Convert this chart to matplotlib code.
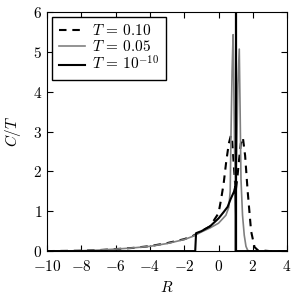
import matplotlib
matplotlib.use("Agg")
from matplotlib import pyplot as plt

plt.rcParams['font.family'] = 'serif'
plt.rcParams['font.serif'] = ['cmr10', 'DejaVu Serif']
plt.rcParams['mathtext.fontset'] = 'cm'
plt.rcParams['axes.formatter.use_mathtext'] = True

# T = 0.10 (dashed)
R_hot = [-10, -9, -8, -7, -6, -5, -4, -3, -2, -1.5, -1, -0.5, 0, 0.15, 0.3,
         0.45, 0.6, 0.72, 0.8, 0.9, 1.0, 1.1, 1.2, 1.3, 1.42, 1.55, 1.7, 1.9,
         2.1, 2.3, 2.7, 3, 4]
C_hot = [0.0, 0.005, 0.01, 0.025, 0.05, 0.08, 0.125, 0.2, 0.3, 0.38, 0.5,
         0.62, 0.95, 1.3, 1.7, 2.25, 2.7, 2.9, 2.75, 2.1, 1.5, 1.85, 2.3, 2.7,
         2.85, 2.4, 1.5, 0.5, 0.1, 0.02, 0.01, 0.0, 0.0]

# T = 0.05 (grey)
R_mid = [-10, -9, -8, -7, -6, -5, -4, -3, -2, -1.5, -1, -0.5, 0, 0.43, 0.6,
         0.68, 0.73, 0.79, 0.85, 0.89, 0.94, 1.0, 1.06, 1.13, 1.21, 1.26, 1.31,
         1.4, 1.5, 1.6, 1.7, 1.8, 4]
C_mid = [0.0, 0.005, 0.01, 0.025, 0.05, 0.08, 0.12, 0.19, 0.29, 0.37, 0.48,
         0.58, 0.7, 0.9, 1.1, 1.5, 3.0, 4.5, 5.43, 4.2, 2.5, 1.6, 2.5, 4.2,
         5.07, 3.5, 1.8, 0.9, 0.4, 0.12, 0.02, 0.0, 0.0]

# T = 1e-10 (black)
R_cold = [-10, -1.36, -1.31, -1, -0.5, 0, 0.3, 0.53, 0.7, 0.9, 0.98, 1.0,
          1.0, 4]
C_cold = [0.0, 0.0, 0.45, 0.5, 0.62, 0.82, 0.98, 1.11, 1.3, 1.49, 1.62, 0.9,
          0.0, 0.0]
R_delta = 1.0

labels = [r'$T\,=\,0.10$', r'$T\,=\,0.05$', r'$T\,=\,10^{-10}$']

fig = plt.figure(figsize=(3, 3), dpi=100)
ax = fig.add_axes([0.157, 0.163, 0.8, 0.797])

ax.plot(R_hot, C_hot, color='black', lw=1.5, dashes=(3.6, 2.8), label=labels[0])
ax.plot(R_mid, C_mid, color='#808080', lw=1.2, label=labels[1])
ax.plot(R_cold, C_cold, color='black', lw=1.5, label=labels[2])
ax.axvline(R_delta, color='black', lw=1.6)

ax.set_xlim(-10, 4)
ax.set_ylim(0, 6)
ax.set_xticks(range(-10, 5, 2))
ax.set_yticks(range(0, 7))
ax.tick_params(direction='in', top=True, right=True, labelsize=11, length=4)
ax.tick_params(axis='x', pad=6)
ax.set_xlabel(r'$R$', fontsize=11, labelpad=4)
ax.set_ylabel(r'$C/T$', fontsize=11, labelpad=7)

leg = ax.legend(loc='upper left', fontsize=11, handlelength=1.7,
                handletextpad=0.5, fancybox=False, edgecolor='black',
                framealpha=1, borderaxespad=0.3, labelspacing=0.05,
                borderpad=0.45)
leg.get_frame().set_linewidth(1.0)

fig.savefig('out.png', dpi=100)
